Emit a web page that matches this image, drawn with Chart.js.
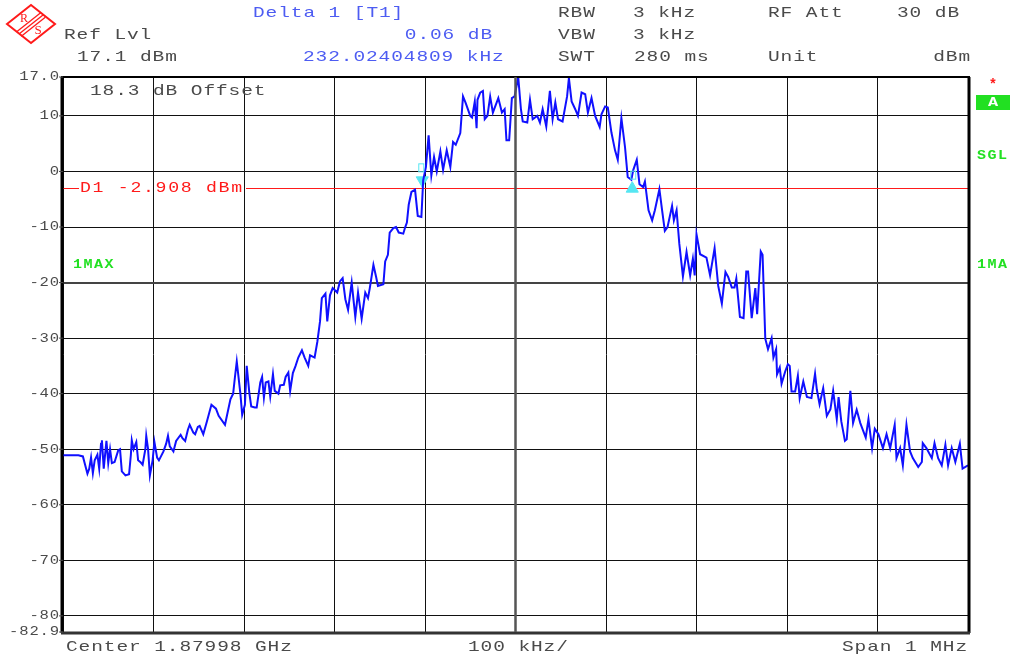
<!DOCTYPE html>
<html lang="en">
<head>
    <meta charset="UTF-8">
    <title>Spectrum</title>
    <script src="https://cdn.jsdelivr.net/npm/chart.js"></script>
    <style>
        body { margin: 0; background: #fff; }
        #spec { display: block; }
    </style>
</head>
<body>
    <canvas id="spec" width="1011" height="657"></canvas>

    <script>
        // trace (offset from start of span in kHz, level in dBm)
        const freqKHz = [
            0, 8, 17, 22, 27, 29, 31, 33, 35, 38,
            40, 42, 43, 45, 48, 50, 52, 54, 57, 61,
            63, 65, 69, 73, 75, 76, 78, 81, 83, 86,
            88, 91, 92, 94, 96, 99, 101, 104, 106, 111,
            114, 116, 118, 122, 125, 130, 132, 135, 138, 140,
            144, 146, 149, 151, 155, 159, 164, 169, 172, 179,
            185, 188, 190, 192, 196, 198, 201, 203, 206, 208,
            212, 214, 218, 220, 222, 224, 227, 229, 232, 234,
            238, 240, 244, 246, 249, 251, 254, 257, 260, 264,
            267, 271, 273, 278, 281, 284, 286, 290, 292, 295,
            298, 303, 306, 309, 312, 315, 319, 323, 326, 330,
            334, 337, 339, 343, 346, 348, 354, 356, 359, 361,
            365, 368, 371, 376, 378, 380, 382, 385, 389, 392,
            396, 398, 401, 404, 407, 410, 413, 417, 420, 424,
            428, 431, 434, 439, 442, 445, 450, 452, 455, 457,
            458, 461, 464, 466, 469, 472, 475, 481, 485, 488,
            490, 493, 496, 499, 503, 506, 508, 513, 516, 519,
            524, 527, 530, 534, 538, 541, 544, 547, 552, 557,
            559, 562, 566, 569, 573, 577, 580, 584, 588, 593,
            595, 599, 602, 606, 610, 613, 617, 621, 624, 628,
            630, 634, 637, 641, 643, 647, 651, 654, 659, 662,
            665, 668, 673, 675, 678, 681, 685, 689, 693, 696,
            698, 700, 704, 711, 715, 720, 724, 728, 732, 735,
            739, 742, 744, 748, 752, 755, 757, 761, 765, 767,
            771, 773, 776, 779, 783, 785, 788, 789, 792, 794,
            798, 801, 803, 805, 809, 812, 814, 818, 822, 827,
            831, 833, 836, 840, 844, 848, 851, 855, 857, 860,
            864, 866, 870, 873, 877, 881, 887, 890, 894, 897,
            901, 906, 910, 914, 919, 921, 925, 928, 932, 936,
            939, 945, 949, 950, 954, 960, 963, 967, 971, 975,
            978, 982, 986, 991, 994, 1000
        ];
        const levelDbm = [
            -51.1, -51.1, -51.1, -51.3, -54.4, -53.5, -51.5, -54.3, -52, -51,
            -53.5, -49, -48.4, -53.5, -48.5, -52.5, -50, -52.5, -52.3, -50.2,
            -50, -54, -54.7, -54.5, -51, -48.4, -50, -48.7, -52, -52.4,
            -52.8, -50, -47.6, -50, -54.7, -52, -48.7, -51.5, -52, -50.4,
            -49, -47.6, -49.5, -50.4, -48.5, -47.4, -48, -48.5, -46.5, -45.6,
            -47, -47.3, -46, -45.8, -47.3, -45, -42, -42.7, -44, -45.6,
            -41, -40, -37, -34.2, -40, -43.8, -42, -35, -40, -42.3,
            -42.5, -42.5, -38, -37, -40.7, -38, -37.8, -40.5, -36.5, -39.5,
            -40, -38.5, -38.4, -37, -36.2, -39.5, -36.3, -35, -33.5, -32.2,
            -33.5, -35, -33.1, -33.5, -30.7, -27, -22.8, -22, -27, -22.3,
            -21, -21.8, -19.8, -19.2, -23, -24.9, -20, -26.2, -21.8, -26.5,
            -21.8, -22.8, -21, -16.8, -19, -20.6, -20.3, -16.2, -15, -11,
            -10.2, -10, -11, -11.2, -10.1, -9.2, -6, -3.7, -3.3, -8,
            -8.2, -1.6, 0.8, 6.5, -0.7, 2.6, 0, 3.6, 0.3, 3.8,
            0.8, 5.3, 4.8, 6.9, 13.5, 12.3, 10, 9.7, 12.6, 7.8,
            12.9, 14.2, 14.5, 9.4, 10, 13.5, 10.6, 13.2, 10.6, 11.2,
            5.6, 5.6, 13.2, 13.5, 17, 11.2, 9, 8.8, 12.9, 9.4,
            10, 8.8, 11.2, 8.1, 14.5, 9.4, 12.4, 9.4, 9, 13.5,
            16.8, 12.6, 11.2, 10, 14.2, 13.9, 10.6, 13.2, 10, 8,
            10.3, 11.7, 11.5, 7, 3.8, 2.1, 9.6, 4.4, -1, -1.5,
            0.2, 2.1, -2.3, -2.8, -1.8, -7, -8.8, -7, -3.2, -7,
            -10.7, -10, -6.2, -8.8, -7, -13, -18.9, -14.5, -18.7, -15.7,
            -18.7, -11.3, -14.9, -15.5, -18.7, -13.8, -20.6, -23.8, -18.1, -19,
            -20.9, -20.9, -19.3, -26.2, -26.4, -18, -18, -26.4, -21, -25.7,
            -14.4, -15, -30.1, -32, -30, -33.5, -32, -36.5, -35.3, -38.2,
            -36, -34.7, -35, -39.6, -39.6, -36.8, -40.8, -37.8, -40.6, -40.8,
            -36.4, -39.3, -41.9, -39, -44, -42.8, -39.5, -44.6, -40.6, -45,
            -48.5, -48.2, -39.5, -45.3, -42.9, -45.3, -47.9, -44.6, -49.8, -46.3,
            -47.3, -49.8, -47.3, -49.8, -45.6, -51.6, -49.8, -52.9, -45.6, -50.4,
            -51.6, -53.2, -52.3, -48.9, -49.8, -51.6, -48.9, -51.6, -52.9, -49.2,
            -52.9, -49.8, -52.3, -49, -53.5, -52.9
        ];

        // marker 1 and delta marker
        const markerKHz = [397, 629];
        const markerDbm = [-1.6, -3.1];
        const displayLine = -2.908;

        const yTicks = [-82.9, -80, -70, -60, -50, -40, -30, -20, -10, 0, 10, 17];
        const yTickLabels = ['-82.9', '-80', '-70', '-60', '-50', '-40', '-30', '-20', '-10', '0', '10', '17.0'];

        const GRAY = '#4a4a4a';
        const BLUE = '#4d5cf2';
        const RED = '#ff1a1a';
        const GREEN = '#22e022';
        const CYAN = '#55e6f2';
        const FONT = '"Liberation Mono", "DejaVu Sans Mono", monospace';

        // instrument font is wide, so draw char by char
        function monoText(ctx, str, x, y, color, opts) {
            opts = opts || {};
            const size = opts.size || 15;
            const adv = opts.adv || 12.6;
            const sx = opts.sx || 1.3;
            ctx.save();
            ctx.font = (opts.bold ? 'bold ' : '') + size + 'px ' + FONT;
            ctx.fillStyle = color;
            ctx.textBaseline = 'middle';
            ctx.textAlign = 'left';
            if (opts.right) x = x - str.length * adv;
            for (let i = 0; i < str.length; i++) {
                ctx.save();
                ctx.translate(x + i * adv, y);
                ctx.scale(sx, 1);
                ctx.fillText(str[i], 0, 0);
                ctx.restore();
            }
            ctx.restore();
        }

        function drawLogo(ctx) {
            ctx.save();
            ctx.strokeStyle = RED;
            ctx.lineWidth = 2;
            ctx.beginPath();
            ctx.moveTo(7, 24); ctx.lineTo(31, 5); ctx.lineTo(55, 24); ctx.lineTo(31, 43);
            ctx.closePath();
            ctx.stroke();
            ctx.lineWidth = 1.3;
            for (let k = -1; k <= 1; k++) {
                ctx.beginPath();
                ctx.moveTo(19 + k * 2.3, 34 + k * 2.3);
                ctx.lineTo(43 + k * 2.3, 15 + k * 2.3);
                ctx.stroke();
            }
            ctx.fillStyle = RED;
            ctx.font = '12px "Liberation Serif", serif';
            ctx.textAlign = 'center';
            ctx.textBaseline = 'middle';
            ctx.fillText('R', 24, 19);
            ctx.font = '13px "Liberation Serif", serif';
            ctx.fillText('S', 38, 31);
            ctx.restore();
        }

        const analyzerPlugin = {
            id: 'analyzer',
            beforeDraw(chart) {
                const ctx = chart.ctx;
                ctx.save();
                ctx.fillStyle = '#fff';
                ctx.fillRect(0, 0, chart.width, chart.height);
                ctx.restore();
            },
            beforeDatasetsDraw(chart) {
                const ctx = chart.ctx;
                const a = chart.chartArea;
                const y = Math.round(chart.scales.y.getPixelForValue(displayLine)) + 0.5;
                ctx.save();
                ctx.strokeStyle = RED;
                ctx.lineWidth = 1;
                ctx.beginPath();
                ctx.moveTo(a.left, y); ctx.lineTo(a.left + 16, y);
                ctx.moveTo(a.left + 183, y); ctx.lineTo(a.right, y);
                ctx.stroke();
                ctx.restore();
                monoText(ctx, 'D1 -2.908 dBm', a.left + 17, y, RED, { size: 14, adv: 12.6 });
                monoText(ctx, '18.3 dB Offset', 90, 91, GRAY);
                monoText(ctx, '1MAX', 73, 265, GREEN, { size: 12, adv: 10.5, bold: true, sx: 1.25 });
            },
            afterDraw(chart) {
                const ctx = chart.ctx;
                const a = chart.chartArea;
                const ys = chart.scales.y;
                const xs = chart.scales.x;

                // frame
                ctx.save();
                ctx.strokeStyle = '#000';
                ctx.lineWidth = 3;
                ctx.beginPath();
                ctx.moveTo(a.left - 1, a.top); ctx.lineTo(a.left - 1, a.bottom + 1);
                ctx.moveTo(a.right + 1, a.top); ctx.lineTo(a.right + 1, a.bottom + 1);
                ctx.stroke();
                ctx.lineWidth = 2;
                ctx.beginPath();
                ctx.moveTo(a.left - 2, a.top); ctx.lineTo(a.right + 2, a.top);
                ctx.stroke();
                ctx.strokeStyle = '#333';
                ctx.lineWidth = 3;
                ctx.beginPath();
                ctx.moveTo(a.left - 2, a.bottom + 1); ctx.lineTo(a.right + 2, a.bottom + 1);
                ctx.stroke();
                // centre line is heavier
                const cx = xs.getPixelForValue(500);
                ctx.strokeStyle = '#555';
                ctx.lineWidth = 2.5;
                ctx.beginPath();
                ctx.moveTo(cx, a.top); ctx.lineTo(cx, a.bottom);
                ctx.stroke();
                // little tick stubs left of the axis
                ctx.strokeStyle = GRAY;
                ctx.lineWidth = 1;
                ctx.beginPath();
                yTicks.forEach(v => {
                    const py = ys.getPixelForValue(v);
                    ctx.moveTo(a.left - 4, py); ctx.lineTo(a.left, py);
                });
                ctx.stroke();
                ctx.restore();

                // y labels
                yTicks.forEach((v, i) => {
                    let py = ys.getPixelForValue(v);
                    monoText(ctx, yTickLabels[i], 60, py, GRAY, { size: 13, adv: 10.2, sx: 1.2, right: true });
                });

                // marker labels
                ctx.save();
                ctx.strokeStyle = CYAN;
                ctx.lineWidth = 1;
                const m1x = xs.getPixelForValue(markerKHz[0]);
                const m1y = ys.getPixelForValue(markerDbm[0]);
                ctx.strokeRect(m1x - 3.5, m1y - 16.5, 5, 8);
                const m2x = xs.getPixelForValue(markerKHz[1]);
                const m2y = ys.getPixelForValue(markerDbm[1]);
                ctx.strokeRect(m2x - 1.5, m2y - 17.5, 5, 8);
                ctx.restore();

                // header
                drawLogo(ctx);
                monoText(ctx, 'Delta 1 [T1]', 253, 13, BLUE);
                monoText(ctx, 'Ref Lvl', 64, 35, GRAY);
                monoText(ctx, '0.06 dB', 493, 35, BLUE, { right: true });
                monoText(ctx, '17.1 dBm', 77, 57, GRAY);
                monoText(ctx, '232.02404809 kHz', 303, 57, BLUE);
                monoText(ctx, 'RBW', 558, 13, GRAY);
                monoText(ctx, '3 kHz', 633, 13, GRAY);
                monoText(ctx, 'RF Att', 768, 13, GRAY);
                monoText(ctx, '30 dB', 897, 13, GRAY);
                monoText(ctx, 'VBW', 558, 35, GRAY);
                monoText(ctx, '3 kHz', 633, 35, GRAY);
                monoText(ctx, 'SWT', 558, 57, GRAY);
                monoText(ctx, '280 ms', 634, 57, GRAY);
                monoText(ctx, 'Unit', 768, 57, GRAY);
                monoText(ctx, 'dBm', 971, 57, GRAY, { right: true });

                // footer
                monoText(ctx, 'Center 1.87998 GHz', 66, 647, GRAY);
                monoText(ctx, '100 kHz/', 468, 647, GRAY);
                monoText(ctx, 'Span 1 MHz', 968, 647, GRAY, { right: true });

                // right side status
                ctx.save();
                ctx.fillStyle = RED;
                ctx.font = 'bold 14px ' + FONT;
                ctx.textAlign = 'center';
                ctx.textBaseline = 'middle';
                ctx.fillText('*', 993, 85);
                ctx.fillStyle = GREEN;
                ctx.fillRect(976, 95, 34, 15);
                ctx.restore();
                monoText(ctx, 'A', 988, 103, '#fff', { size: 13, adv: 10, bold: true });
                monoText(ctx, 'SGL', 977, 156, GREEN, { size: 12, adv: 10.5, bold: true, sx: 1.25 });
                monoText(ctx, '1MA', 977, 265, GREEN, { size: 12, adv: 10.5, bold: true, sx: 1.25 });
            }
        };

        const ctx = document.getElementById('spec');

        const chart = new Chart(ctx, {
            type: 'line',
            data: {
                datasets: [
                    {
                        label: 'Trace 1',
                        data: freqKHz.map((f, i) => ({ x: f, y: levelDbm[i] })),
                        borderColor: '#1010ff',
                        borderWidth: 2,
                        pointRadius: 0,
                        tension: 0,
                        fill: false
                    },
                    {
                        label: 'Markers',
                        data: markerKHz.map((f, i) => ({ x: f, y: markerDbm[i] })),
                        showLine: false,
                        pointStyle: 'triangle',
                        rotation: [180, 0],
                        pointRadius: 7,
                        backgroundColor: CYAN,
                        borderColor: CYAN,
                        borderWidth: 1
                    }
                ]
            },
            options: {
                responsive: false,
                devicePixelRatio: 1,
                animation: false,
                layout: { padding: { top: 77, right: 43, bottom: 25, left: 63 } },
                plugins: {
                    legend: { display: false },
                    tooltip: { enabled: false }
                },
                scales: {
                    x: {
                        type: 'linear',
                        min: 0,
                        max: 1000,
                        ticks: { display: false, stepSize: 100 },
                        grid: {
                            color: '#111',
                            lineWidth: 1,
                            drawTicks: false
                        },
                        border: { display: false },
                        afterFit(scale) { scale.height = 0; }
                    },
                    y: {
                        type: 'linear',
                        min: -82.9,
                        max: 17,
                        afterBuildTicks(scale) {
                            scale.ticks = yTicks.map(v => ({ value: v }));
                        },
                        ticks: { display: false },
                        grid: {
                            color: c => (c.tick && c.tick.value === -20) ? '#444' : '#111',
                            lineWidth: c => (c.tick && c.tick.value === -20) ? 2 : 1,
                            drawTicks: false
                        },
                        border: { display: false },
                        afterFit(scale) { scale.width = 0; }
                    }
                }
            },
            plugins: [analyzerPlugin]
        });
    </script>
</body>
</html>
